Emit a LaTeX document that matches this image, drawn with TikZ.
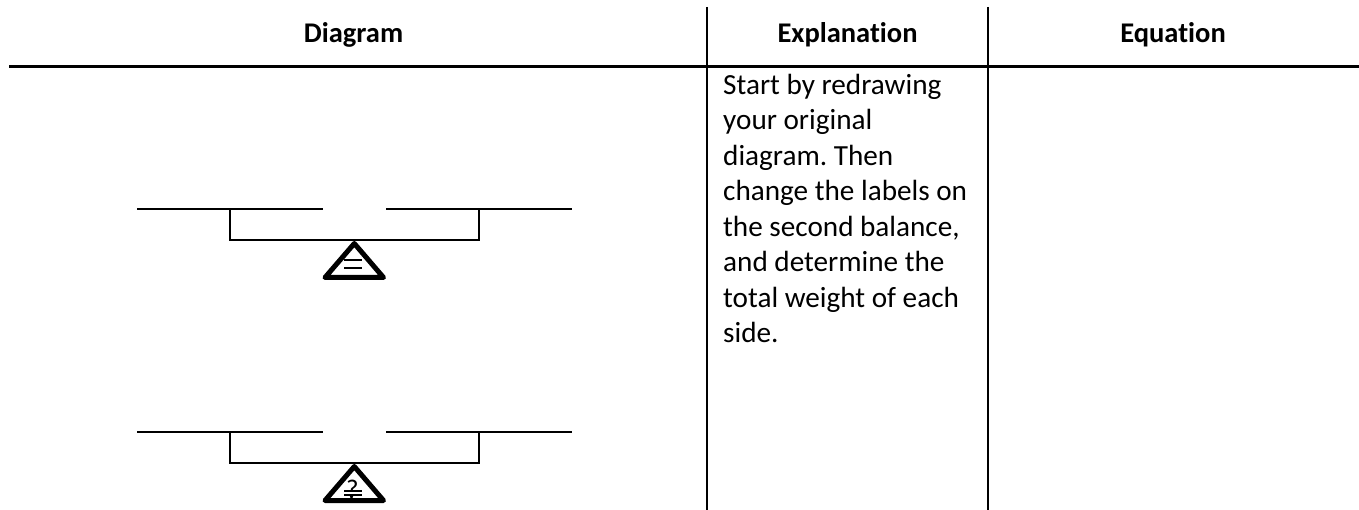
\documentclass[tikz,border=0pt]{standalone}
\usepackage{fontspec}
\setmainfont{Carlito}[Ligatures={NoCommon,NoContextual}]
\frenchspacing
\begin{document}
\begin{tikzpicture}[x=1pt,y=-1pt,
  rule/.style={line width=2pt},
  headrule/.style={line width=2.6pt},
  beam/.style={line width=1.8pt},
  fulcrum/.style={line width=5pt, line join=round},
  sign/.style={line width=2pt},
  head/.style={font=\fontsize{28.5}{34}\selectfont\bfseries, anchor=base, inner sep=0pt},
  body/.style={font=\fontsize{29.2}{35.5}\selectfont, anchor=base west, inner sep=0pt}]
\useasboundingbox (0,0) rectangle (1359,510);
% table rules
\draw[headrule] (9,66.5) -- (1359,66.5);
\draw[rule] (707,7) -- (707,510);
\draw[rule] (988,7) -- (988,510);
% headers
\node[head] (hd) at (353.5,43) {Diagram};
\node[head] (he) at (847.5,43) {Explanation};
\node[head] (hq) at (1173,43) {Equation};
% explanation text
\node[body] (l1) at (723,94.3) {Start by redrawing};
\node[body] (l2) at (723,129.8) {your original};
\node[body] (l3) at (723,165.3) {diagram. Then};
\node[body] (l4) at (723,200.8) {change the labels on};
\node[body] (l5) at (723,236.3) {the second balance,};
\node[body] (l6) at (723,271.8) {and determine the};
\node[body] (l7) at (723,307.3) {total weight of each};
\node[body] (l8) at (723,342.8) {side.};
% balance 1
\begin{scope}
\draw[beam] (137,209) -- (323,209);
\draw[beam] (386,209) -- (572,209);
\draw[beam] (230,208.1) -- (230,240) -- (479,240) -- (479,208.1);
\draw[fulcrum] (354.3,243.5) -- (383.5,277.5) -- (325,277.5) -- cycle;
\draw[sign] (344,260) -- (362,260);
\draw[sign] (344,268.3) -- (362,268.3);
\end{scope}
% balance 2
\begin{scope}[yshift=-223pt]
\draw[beam] (137,209) -- (323,209);
\draw[beam] (386,209) -- (572,209);
\draw[beam] (230,208.1) -- (230,240) -- (479,240) -- (479,208.1);
\draw[fulcrum] (354.3,243.5) -- (383.5,277.5) -- (325,277.5) -- cycle;
\node[font=\fontsize{27}{27}\selectfont, anchor=base, inner sep=0pt] (q) at (352.5,275.8) {?};
\draw[sign] (344,268) -- (362,268);
\draw[sign] (344,272) -- (362,272);
\end{scope}
\end{tikzpicture}
\end{document}
